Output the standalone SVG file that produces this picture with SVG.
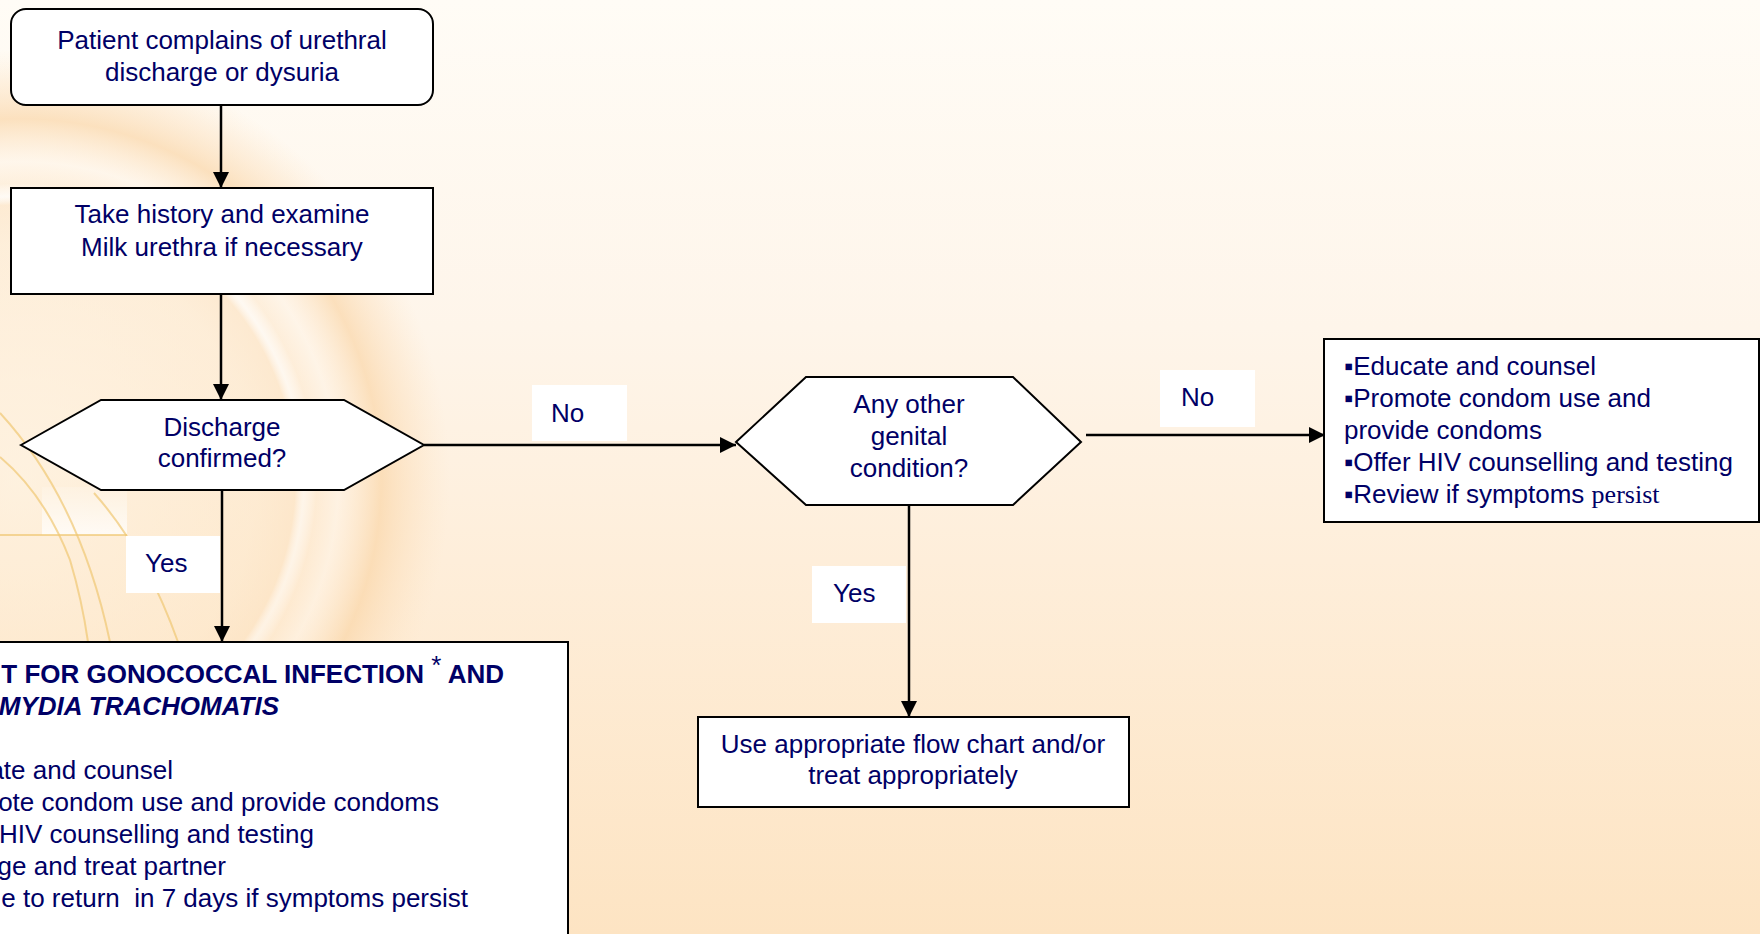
<svg xmlns="http://www.w3.org/2000/svg" width="1760" height="934" viewBox="0 0 1760 934">
<defs>
<linearGradient id="bg" x1="0" y1="0" x2="0" y2="1">
<stop offset="0" stop-color="#FFFCF6"/>
<stop offset="0.35" stop-color="#FEF5EA"/>
<stop offset="0.6" stop-color="#FEEEDA"/>
<stop offset="1" stop-color="#FDE4C3"/>
</linearGradient>
<radialGradient id="globe" gradientUnits="userSpaceOnUse" cx="20" cy="480" r="430">
<stop offset="0" stop-color="#FFF2DE" stop-opacity="0.5"/>
<stop offset="0.55" stop-color="#FDE6C6" stop-opacity="0.5"/>
<stop offset="0.64" stop-color="#FCE0BC" stop-opacity="0.55"/>
<stop offset="0.66" stop-color="#FFFFFF" stop-opacity="0.35"/>
<stop offset="0.69" stop-color="#FDE6C8" stop-opacity="0.45"/>
<stop offset="0.74" stop-color="#FFF4E6" stop-opacity="0.5"/>
<stop offset="0.84" stop-color="#FAD6A8" stop-opacity="0.7"/>
<stop offset="0.93" stop-color="#FCDFBB" stop-opacity="0.35"/>
<stop offset="1" stop-color="#FDE6C8" stop-opacity="0"/>
</radialGradient>
<linearGradient id="patch" x1="0" y1="0" x2="0" y2="1">
<stop offset="0" stop-color="#FFFFFF" stop-opacity="0.15"/>
<stop offset="1" stop-color="#FFFFFF" stop-opacity="0.75"/>
</linearGradient>
<marker id="arrow" markerUnits="userSpaceOnUse" markerWidth="18" markerHeight="18" refX="16" refY="8" orient="auto">
<path d="M0,0 L16,8 L0,16 Z" fill="#000"/>
</marker>
</defs>
<style>
.node{fill:#FFFFFF;stroke:#000;stroke-width:2}
.lbl{fill:#FFFFFF;stroke:none}
.t{font-family:"Liberation Sans",Arial,sans-serif;font-size:26px;fill:#000066}
.c{text-anchor:middle}
.b{font-weight:bold}
.bi{font-weight:bold;font-style:italic}
.serif{font-family:"Liberation Serif","Times New Roman",serif}
.edge{stroke:#000;stroke-width:2.5;fill:none}
.gold{stroke:#F0C873;stroke-width:2;fill:none;opacity:0.7}
</style>
<g id="background">
<rect x="0" y="0" width="1760" height="934" fill="url(#bg)"/>
<circle cx="20" cy="480" r="430" fill="url(#globe)"/>
<path d="M42,487 L127,487 L127,535 L42,535 Z" fill="url(#patch)"/>
<path class="gold" d="M0,413 Q80,500 110,642"/>
<path class="gold" d="M0,457 Q45,495 70,560 Q82,600 88,642"/>
<path class="gold" d="M94,493 Q145,550 178,642"/>
<path class="gold" d="M0,535 L127,535"/>
</g>
<g id="connectors">
<line class="edge" x1="221" y1="105" x2="221" y2="188" marker-end="url(#arrow)"/>
<line class="edge" x1="221" y1="294" x2="221" y2="400" marker-end="url(#arrow)"/>
<line class="edge" x1="424" y1="445" x2="736" y2="445" marker-end="url(#arrow)"/>
<line class="edge" x1="222" y1="490" x2="222" y2="642" marker-end="url(#arrow)"/>
<line class="edge" x1="1086" y1="435" x2="1325" y2="435" marker-end="url(#arrow)"/>
<line class="edge" x1="909" y1="505" x2="909" y2="717" marker-end="url(#arrow)"/>
</g>
<g id="label-no-1">
<rect class="lbl" x="532" y="385" width="95" height="56"/>
<text class="t" x="551" y="422">No</text>
</g>
<g id="label-yes-1">
<rect class="lbl" x="126" y="536" width="94" height="57"/>
<text class="t" x="145" y="572">Yes</text>
</g>
<g id="label-no-2">
<rect class="lbl" x="1160" y="370" width="95" height="57"/>
<text class="t" x="1181" y="406">No</text>
</g>
<g id="label-yes-2">
<rect class="lbl" x="812" y="566" width="94" height="57"/>
<text class="t" x="833" y="602">Yes</text>
</g>
<g id="node-start">
<rect class="node" x="11" y="9" width="422" height="96" rx="15" ry="15"/>
<text class="t c" x="222" y="49">Patient complains of urethral</text>
<text class="t c" x="222" y="81">discharge or dysuria</text>
</g>
<g id="node-history">
<rect class="node" x="11" y="188" width="422" height="106"/>
<text class="t c" x="222" y="223">Take history and examine</text>
<text class="t c" x="222" y="256">Milk urethra if necessary</text>
</g>
<g id="node-discharge">
<polygon class="node" points="21,445 101,400 344,400 424,445 344,490 101,490"/>
<text class="t c" x="222" y="436">Discharge</text>
<text class="t c" x="222" y="467">confirmed?</text>
</g>
<g id="node-other">
<polygon class="node" points="736,442 806,377 1013,377 1081,442 1013,505 806,505"/>
<text class="t c" x="909" y="413">Any other</text>
<text class="t c" x="909" y="445">genital</text>
<text class="t c" x="909" y="477">condition?</text>
</g>
<g id="node-treat">
<rect class="node" x="-10" y="642" width="578" height="310"/>
<text class="t b" x="504" y="683" text-anchor="end">T FOR GONOCOCCAL INFECTION <tspan dy="-9" font-weight="normal">*</tspan><tspan dy="9"> AND</tspan></text>
<text class="t bi" x="279" y="715" text-anchor="end">MYDIA TRACHOMATIS</text>
<text class="t" x="173" y="779" text-anchor="end">ate and counsel</text>
<text class="t" x="439" y="811" text-anchor="end">ote condom use and provide condoms</text>
<text class="t" x="314" y="843" text-anchor="end">HIV counselling and testing</text>
<text class="t" x="226" y="875" text-anchor="end">ge and treat partner</text>
<text class="t" x="468" y="907" text-anchor="end" xml:space="preserve" style="white-space:pre">e to return  in 7 days if symptoms persist</text>
</g>
<g id="node-flowchart">
<rect class="node" x="698" y="717" width="431" height="90"/>
<text class="t c" x="913" y="753">Use appropriate flow chart and/or</text>
<text class="t c" x="913" y="784">treat appropriately</text>
</g>
<g id="node-educate">
<rect class="node" x="1324" y="339" width="435" height="183"/>
<text class="t" x="1344" y="375">▪Educate and counsel</text>
<text class="t" x="1344" y="407">▪Promote condom use and</text>
<text class="t" x="1344" y="439">provide condoms</text>
<text class="t" x="1344" y="471">▪Offer HIV counselling and testing</text>
<text class="t" x="1344" y="503">▪Review if symptoms <tspan class="serif">persist</tspan></text>
</g>
</svg>
